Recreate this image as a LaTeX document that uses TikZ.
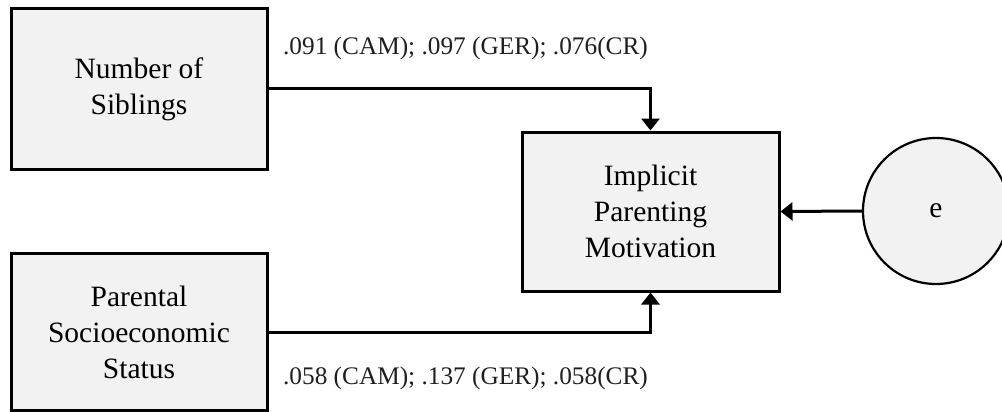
\documentclass[tikz,border=0pt]{standalone}
\usepackage{fontspec}
\setmainfont{Liberation Serif}
\usetikzlibrary{arrows.meta}
\definecolor{boxfill}{HTML}{F2F2F2}
\begin{document}
\begin{tikzpicture}[x=1pt,y=-1pt,
  varbox/.style={draw=black, line width=3pt, fill=boxfill, rectangle, align=center,
    inner sep=0pt, font=\fontsize{29.5}{36}\selectfont},
  errcirc/.style={draw=black, line width=2.2pt, fill=boxfill, circle, inner sep=0pt,
    minimum size=146pt, font=\fontsize{29.5}{36}\selectfont},
  conn/.style={line width=3pt, -{Triangle[width=18pt,length=12pt]}},
  coef/.style={font=\fontsize{25.3}{30}\selectfont, text=black!88, inner sep=0pt}]
\useasboundingbox (0,0) rectangle (1002,412);
\clip (0,0) rectangle (1002,412);
\node[varbox, minimum width=256pt, minimum height=160pt] (sib) at (139,89) {Number of\\Siblings};
\node[varbox, minimum width=256pt, minimum height=157pt] (ses) at (139,332) {Parental\\Socioeconomic\\Status};
\node[varbox, minimum width=257pt, minimum height=159pt] (ipm) at (650.5,211.5) {Implicit\\Parenting\\Motivation};
\node[errcirc] (e) at (936,211) {e};
\draw[conn] (sib.east) -| (ipm.north);
\draw[conn] (ses.east) -| (ipm.south);
\draw[conn] (e.west) -- (ipm.east);
\node[coef] (c1) at (465.5,48) {.091 (CAM); .097 (GER); .076(CR)};
\node[coef] (c2) at (465.5,378) {.058 (CAM); .137 (GER); .058(CR)};
\end{tikzpicture}
\end{document}
